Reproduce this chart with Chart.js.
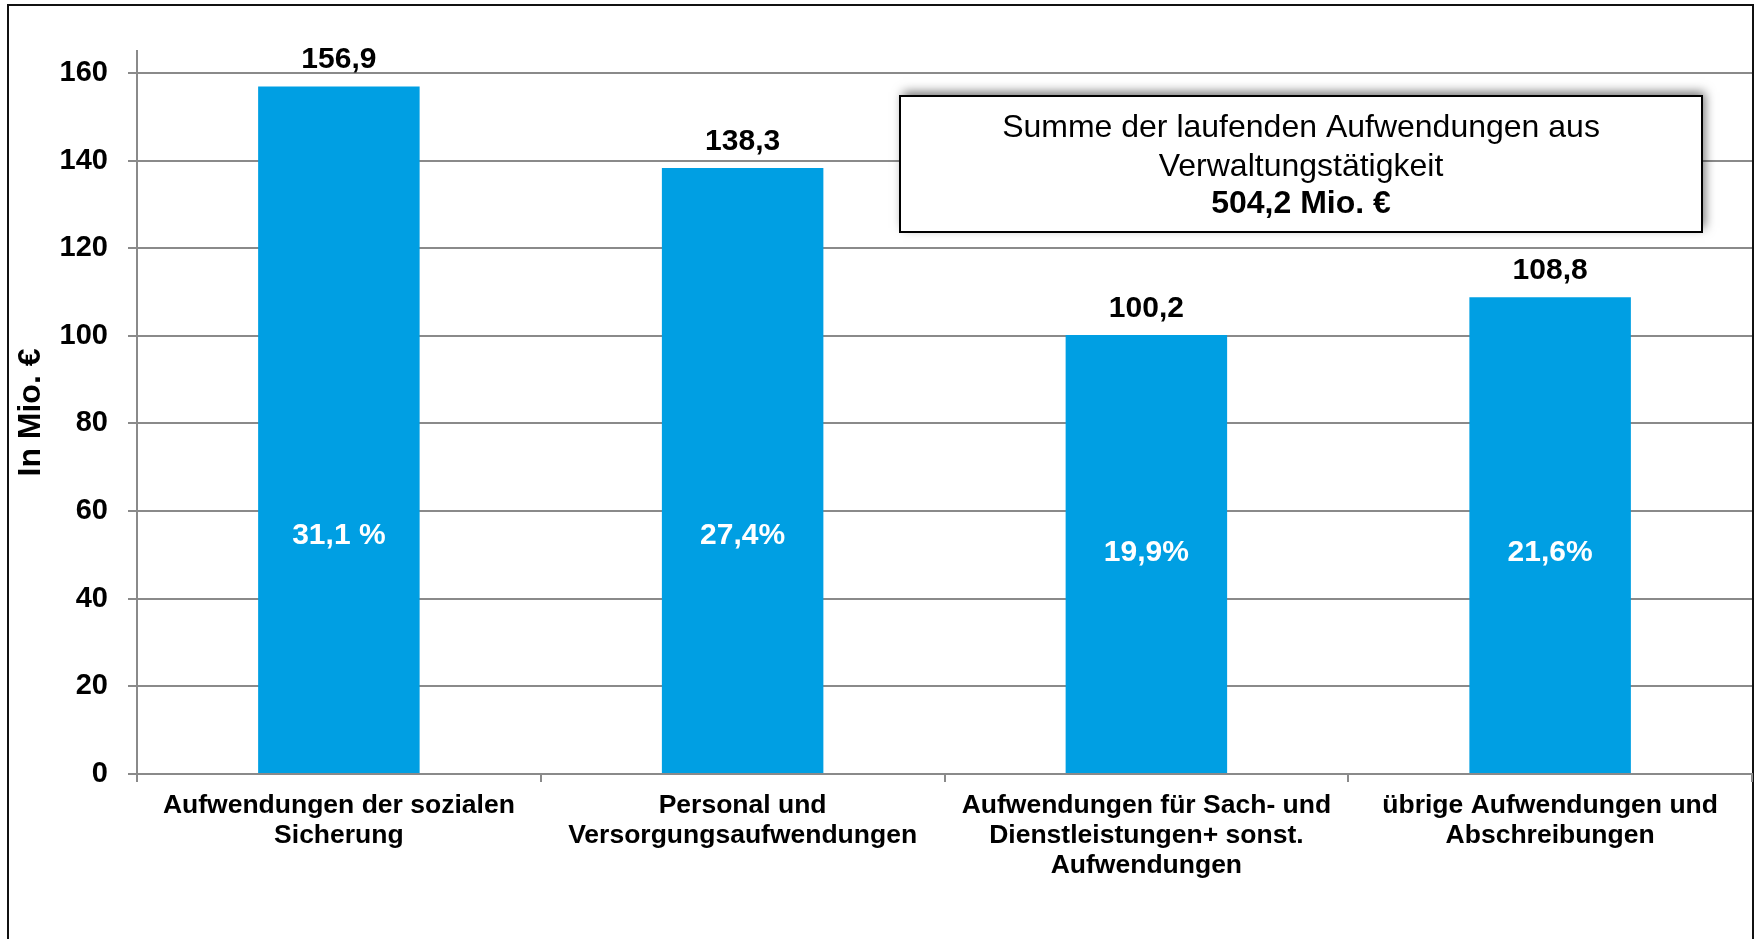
<!DOCTYPE html>
<html>
<head>
<meta charset="utf-8">
<script src="https://cdn.jsdelivr.net/npm/chart.js@4/dist/chart.umd.min.js"></script>
<style>
  html, body { margin: 0; padding: 0; background: #fff; }
  canvas { display: block; }
</style>
</head>
<body>
<canvas id="myChart" width="1758" height="939"></canvas>
<script>
// Kategorien (mehrzeilige Beschriftung)
const categories = [
  ["Aufwendungen der sozialen", "Sicherung"],
  ["Personal und", "Versorgungsaufwendungen"],
  ["Aufwendungen für Sach- und", "Dienstleistungen+ sonst.", "Aufwendungen"],
  ["übrige Aufwendungen und", "Abschreibungen"]
];
// Werte in Mio. €
const values = [156.9, 138.3, 100.2, 108.8];
// Anteile (Text wie im Original)
const shareLabels = ["31,1 %", "27,4%", "19,9%", "21,6%"];
const yTicks = [0, 20, 40, 60, 80, 100, 120, 140, 160];

const FONT = "'Liberation Sans', Arial, sans-serif";
const BAR_COLOR = "#009FE3";
const GRID_COLOR = "#8a8a8a";

const fmt = (v) => v.toFixed(1).replace(".", ",");

// Rahmen + Summenkasten + Beschriftungen
const decorations = {
  id: "decorations",
  beforeDraw(chart) {
    const ctx = chart.ctx;
    ctx.save();
    ctx.fillStyle = "#fff";
    ctx.fillRect(0, 0, chart.width, chart.height);
    ctx.strokeStyle = "#111";
    ctx.lineWidth = 2;
    ctx.strokeRect(8, 5, 1745, 960);
    ctx.restore();
  },
  afterDatasetsDraw(chart) {
    const ctx = chart.ctx;
    const meta = chart.getDatasetMeta(0);
    const yScale = chart.scales.y;
    // Anteil-Labels sitzen nicht mittig, sondern leicht versetzt (wie im Original)
    const shareAt = [54.3, 54.3, 50.6, 50.6];
    ctx.save();
    meta.data.forEach((bar, i) => {
      ctx.fillStyle = "#000";
      ctx.font = "bold 30px " + FONT;
      ctx.textAlign = "center";
      ctx.textBaseline = "alphabetic";
      ctx.fillText(fmt(values[i]), bar.x, bar.y - 18);

      ctx.fillStyle = "#fff";
      ctx.textBaseline = "middle";
      ctx.fillText(shareLabels[i], bar.x, yScale.getPixelForValue(shareAt[i]));
    });
    ctx.restore();
  },
  afterDraw(chart) {
    const ctx = chart.ctx;
    const bx = 900, by = 96, bw = 802, bh = 136;
    ctx.save();
    ctx.shadowColor = "rgba(0,0,0,0.55)";
    ctx.shadowBlur = 10;
    ctx.shadowOffsetX = 3;
    ctx.shadowOffsetY = -4;
    ctx.fillStyle = "#fff";
    ctx.fillRect(bx, by, bw, bh);
    ctx.restore();

    ctx.save();
    ctx.strokeStyle = "#000";
    ctx.lineWidth = 2;
    ctx.strokeRect(bx, by, bw, bh);
    const cx = bx + bw / 2;
    ctx.fillStyle = "#000";
    ctx.textAlign = "center";
    ctx.textBaseline = "alphabetic";
    ctx.font = "32px " + FONT;
    ctx.fillText("Summe der laufenden Aufwendungen aus", cx, 137);
    ctx.fillText("Verwaltungstätigkeit", cx, 176);
    const total = values.reduce((a, b) => a + b, 0);
    ctx.font = "bold 32px " + FONT;
    ctx.fillText(fmt(total) + " Mio. €", cx, 213);
    ctx.restore();
  }
};

new Chart(document.getElementById("myChart"), {
  type: "bar",
  data: {
    labels: categories,
    datasets: [{
      data: values,
      backgroundColor: BAR_COLOR,
      borderWidth: 0,
      barPercentage: 0.4,
      categoryPercentage: 1.0,
    }]
  },
  options: {
    responsive: false,
    maintainAspectRatio: false,
    animation: false,
    devicePixelRatio: 1,
    layout: { padding: { left: 0, top: 51, right: 6, bottom: 0 } },
    plugins: {
      legend: { display: false },
      tooltip: { enabled: false },
    },
    scales: {
      x: {
        grid: {
          offset: true,
          drawOnChartArea: false,
          drawTicks: true,
          tickLength: 8,
          color: GRID_COLOR,
          lineWidth: 2,
        },
        border: { color: GRID_COLOR, width: 2 },
        ticks: {
          color: "#000",
          font: { family: FONT, size: 26.5, weight: "bold", lineHeight: "30px" },
          padding: 9,
          maxRotation: 0,
          autoSkip: false,
        },
        afterFit(scale) { scale.height = 165; },
      },
      y: {
        min: 0,
        max: 165,
        grid: {
          color: GRID_COLOR,
          lineWidth: 2,
          drawTicks: true,
          tickLength: 9,
        },
        border: { color: GRID_COLOR, width: 2 },
        afterBuildTicks(scale) {
          scale.ticks = yTicks.map((v) => ({ value: v }));
        },
        ticks: {
          color: "#000",
          font: { family: FONT, size: 29, weight: "bold" },
          padding: 20,
        },
        title: {
          display: true,
          text: "In Mio. €",
          color: "#000",
          font: { family: FONT, size: 32, weight: "bold", lineHeight: 1.2 },
          padding: { top: 12, bottom: 0 },
        },
        afterFit(scale) { scale.width = 137; },
      },
    },
  },
  plugins: [decorations],
});
</script>
</body>
</html>
